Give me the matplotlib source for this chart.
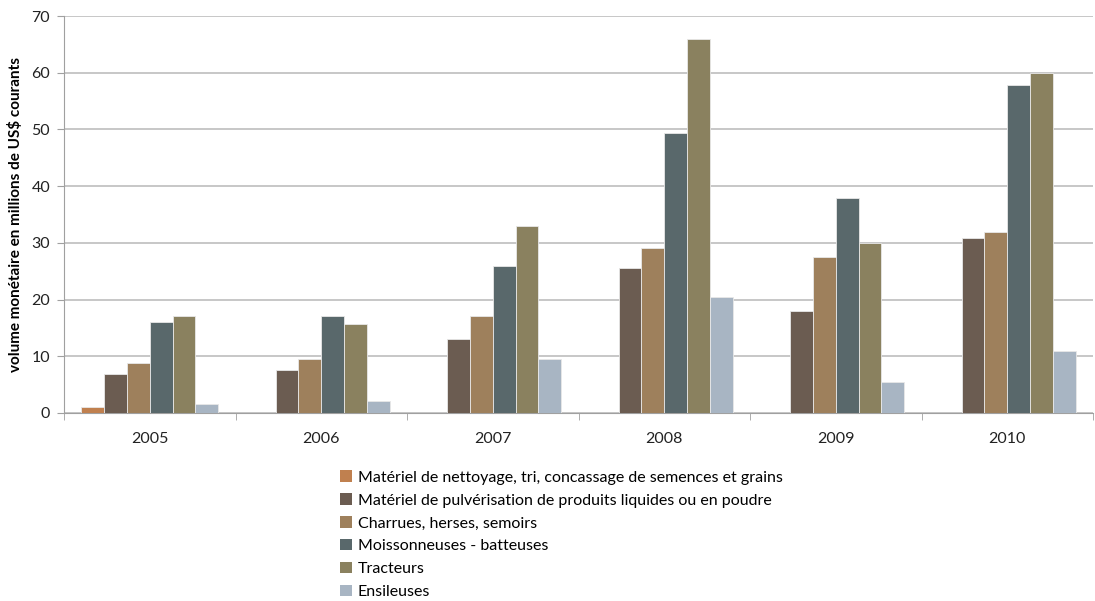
import numpy as np
import matplotlib
matplotlib.use("Agg")
import matplotlib.pyplot as plt

plt.rcParams['font.family'] = ['Lato', 'DejaVu Sans']

years = ["2005", "2006", "2007", "2008", "2009", "2010"]
series_names = [
    "Matériel de nettoyage, tri, concassage de semences et grains",
    "Matériel de pulvérisation de produits liquides ou en poudre",
    "Charrues, herses, semoirs",
    "Moissonneuses - batteuses",
    "Tracteurs",
    "Ensileuses",
]
nettoyage = [1.0, 0, 0, 0, 0, 0]
pulverisation = [6.9, 7.5, 13.0, 25.5, 17.9, 30.8]
charrues = [8.9, 9.5, 17.1, 29.1, 27.5, 31.9]
moissonneuses = [16.1, 17.1, 26.0, 49.4, 37.9, 57.9]
tracteurs = [17.1, 15.7, 32.9, 66.0, 30.0, 60.0]
ensileuses = [1.5, 2.1, 9.5, 20.4, 5.4, 10.9]
colors = ["#C0804F", "#6B5C51", "#9E805C", "#59686B", "#8A815F", "#A8B5C3"]

data = [nettoyage, pulverisation, charrues, moissonneuses, tracteurs, ensileuses]

fig = plt.figure(figsize=(10.95, 6.01), dpi=100)
ax = fig.add_axes([64 / 1095, 1 - 413 / 601, (1093 - 64) / 1095, (413 - 16) / 601])

x = np.arange(len(years))
bw = 0.8 / 6
for i, (vals, name, c) in enumerate(zip(data, series_names, colors)):
    vals = np.array(vals, dtype=float)
    widths = [0.6 if v > 0 else 0 for v in vals]
    ax.bar(x + (i - 2.5) * bw, vals, bw, color=c, edgecolor="#E8E8E8",
           linewidth=widths, label=name, zorder=3)

ax.set_xlim(-0.5, len(years) - 0.5)
ax.set_ylim(0, 70)
ax.set_yticks(range(0, 71, 10))
ax.yaxis.grid(True, color="#BDBDBD", linewidth=1.2, zorder=0)
ax.set_xticks(x)
ax.set_xticklabels(years, fontsize=11.5, color="#222222")
ax.set_xticks(np.arange(-0.5, len(years)), minor=True)
ax.tick_params(axis="x", which="major", length=0, pad=14)
ax.tick_params(axis="x", which="minor", length=5, color="#A0A0A0")
ax.tick_params(axis="y", length=5, color="#A0A0A0", labelsize=11.5,
               labelcolor="#222222", pad=5)
for s in ["top", "right"]:
    ax.spines[s].set_visible(False)
for s in ["left", "bottom"]:
    ax.spines[s].set_color("#A0A0A0")
ax.set_ylabel("volume monétaire en millions de US$ courants", fontsize=11,
              fontweight="bold", labelpad=6)

leg = fig.legend(loc="upper left", bbox_to_anchor=(334 / 1095, 1 - 464 / 601),
                 frameon=False, fontsize=11.5, handlelength=0.7, handleheight=0.7,
                 handletextpad=0.4, labelspacing=0.55, borderaxespad=0)
for h in leg.legend_handles:
    h.set_edgecolor("none")

fig.savefig("out.png", dpi=100)
